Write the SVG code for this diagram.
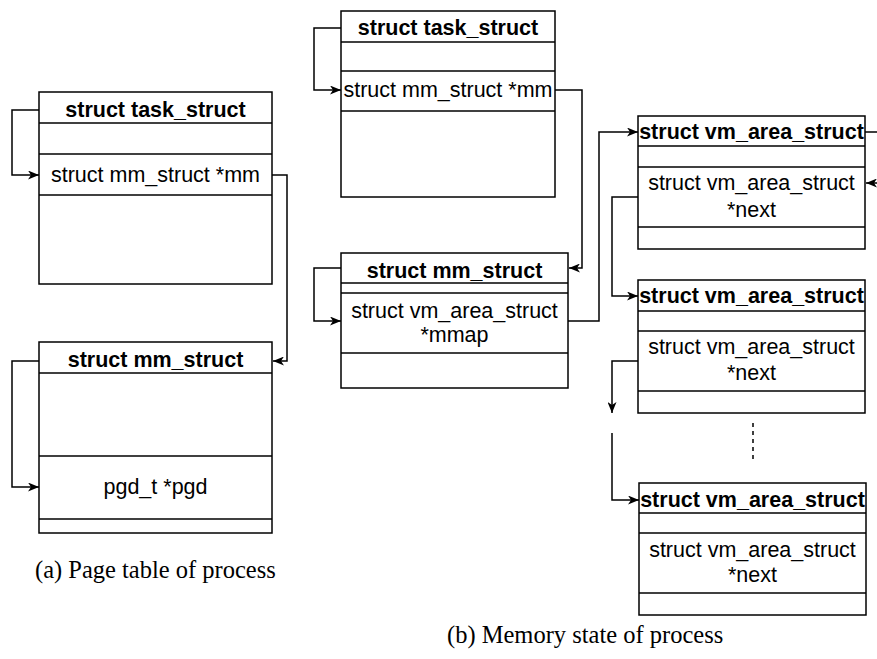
<svg xmlns="http://www.w3.org/2000/svg" width="877" height="659" viewBox="0 0 877 659">
<style>
.box{fill:#fff;stroke:#000;stroke-width:1.5}
.div{stroke:#000;stroke-width:1.5}
.h{font-family:"Liberation Sans",Arial,sans-serif;font-weight:bold;font-size:21.5px;text-anchor:middle;fill:#000}
.t{font-family:"Liberation Sans",Arial,sans-serif;font-size:21.5px;text-anchor:middle;fill:#000}
.cap{font-family:"Liberation Serif","Times New Roman",serif;font-size:24.5px;fill:#000}
.c{fill:none;stroke:#000;stroke-width:1.5}
</style>
<defs>
<marker id="arr" viewBox="0 0 11 9" refX="11" refY="4.5" markerWidth="11" markerHeight="9" orient="auto" markerUnits="userSpaceOnUse">
<path d="M0,0 L11,4.5 L0,9 L3,4.5 Z" fill="#000"/>
</marker>
</defs>
<g id="connectors">
<path class="c" d="M39,110 H12 V175 H39" marker-end="url(#arr)"/>
<path class="c" d="M272,175 H287 V361 H273" marker-end="url(#arr)"/>
<path class="c" d="M39,361 H12 V487 H39" marker-end="url(#arr)"/>
<path class="c" d="M341,28 H314 V90 H341" marker-end="url(#arr)"/>
<path class="c" d="M555,90 H582 V268 H569" marker-end="url(#arr)"/>
<path class="c" d="M341,268 H314 V321 H341" marker-end="url(#arr)"/>
<path class="c" d="M568,321 H599 V132 H638" marker-end="url(#arr)"/>
<path class="c" d="M865,132 H885 V183 H866" marker-end="url(#arr)"/>
<path class="c" d="M638,197 H612 V296 H638" marker-end="url(#arr)"/>
<path class="c" d="M638,361 H612 V413" marker-end="url(#arr)"/>
<path class="c" d="M612,433 V500 H639" marker-end="url(#arr)"/>
<path class="c" d="M753,423 V463" stroke-dasharray="4,4"/>
</g>
<g id="task_a">
<rect class="box" x="39" y="92" width="233" height="192"/>
<line class="div" x1="39" y1="123" x2="272" y2="123"/>
<line class="div" x1="39" y1="154" x2="272" y2="154"/>
<line class="div" x1="39" y1="195" x2="272" y2="195"/>
<text class="h" x="155.5" y="117">struct task_struct</text>
<text class="t" x="155.5" y="182">struct mm_struct *mm</text>
</g>
<g id="mm_a">
<rect class="box" x="39" y="342" width="233" height="191"/>
<line class="div" x1="39" y1="373" x2="272" y2="373"/>
<line class="div" x1="39" y1="456" x2="272" y2="456"/>
<line class="div" x1="39" y1="519" x2="272" y2="519"/>
<text class="h" x="155.5" y="367">struct mm_struct</text>
<text class="t" x="155.5" y="494">pgd_t *pgd</text>
</g>
<g id="task_b">
<rect class="box" x="341" y="11" width="214" height="186"/>
<line class="div" x1="341" y1="42" x2="555" y2="42"/>
<line class="div" x1="341" y1="71" x2="555" y2="71"/>
<line class="div" x1="341" y1="111" x2="555" y2="111"/>
<text class="h" x="448" y="35">struct task_struct</text>
<text class="t" x="448" y="97">struct mm_struct *mm</text>
</g>
<g id="mm_b">
<rect class="box" x="341" y="253" width="227" height="135"/>
<line class="div" x1="341" y1="283" x2="568" y2="283"/>
<line class="div" x1="341" y1="293" x2="568" y2="293"/>
<line class="div" x1="341" y1="353" x2="568" y2="353"/>
<text class="h" x="454.5" y="278">struct mm_struct</text>
<text class="t" x="454.5" y="318">struct vm_area_struct</text>
<text class="t" x="454.5" y="342">*mmap</text>
</g>
<g id="vm1">
<rect class="box" x="638" y="116" width="227" height="133"/>
<line class="div" x1="638" y1="146" x2="865" y2="146"/>
<line class="div" x1="638" y1="167" x2="865" y2="167"/>
<line class="div" x1="638" y1="227" x2="865" y2="227"/>
<text class="h" x="751.5" y="139">struct vm_area_struct</text>
<text class="t" x="751.5" y="190">struct vm_area_struct</text>
<text class="t" x="751.5" y="217">*next</text>
</g>
<g id="vm2">
<rect class="box" x="638" y="280" width="227" height="133"/>
<line class="div" x1="638" y1="311" x2="865" y2="311"/>
<line class="div" x1="638" y1="331" x2="865" y2="331"/>
<line class="div" x1="638" y1="391" x2="865" y2="391"/>
<text class="h" x="751.5" y="303">struct vm_area_struct</text>
<text class="t" x="751.5" y="354">struct vm_area_struct</text>
<text class="t" x="751.5" y="380">*next</text>
</g>
<g id="vm3">
<rect class="box" x="639" y="483" width="227" height="132"/>
<line class="div" x1="639" y1="513" x2="866" y2="513"/>
<line class="div" x1="639" y1="533" x2="866" y2="533"/>
<line class="div" x1="639" y1="593" x2="866" y2="593"/>
<text class="h" x="752.5" y="507">struct vm_area_struct</text>
<text class="t" x="752.5" y="557">struct vm_area_struct</text>
<text class="t" x="752.5" y="582">*next</text>
</g>
<g id="captions">
<text class="cap" x="35" y="578">(a) Page table of process</text>
<text class="cap" x="447" y="643">(b) Memory state of process</text>
</g>
</svg>
